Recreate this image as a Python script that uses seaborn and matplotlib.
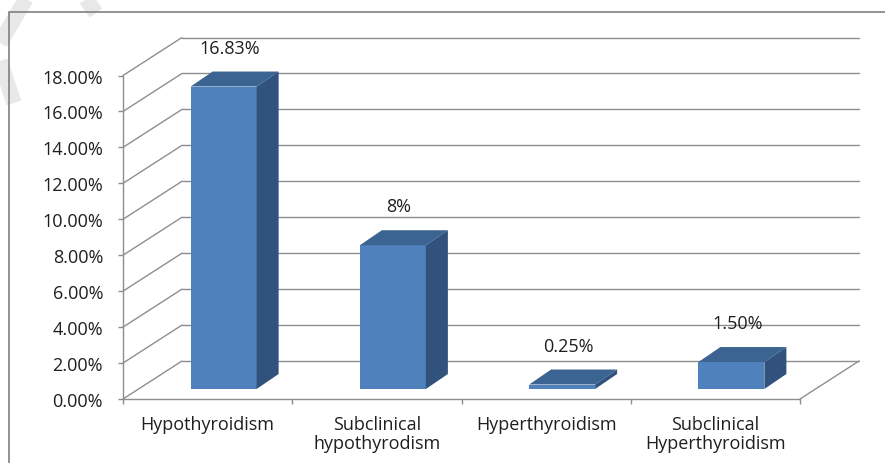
import matplotlib
matplotlib.use("Agg")
import matplotlib.pyplot as plt
import seaborn as sns
import pandas as pd
from matplotlib.patches import Polygon, Rectangle
from matplotlib.lines import Line2D

# Prevalence of thyroid dysfunction
categories = ["Hypothyroidism", "Subclinical\nhypothyrodism",
              "Hyperthyroidism", "Subclinical\nHyperthyroidism"]
prevalence = [16.83, 8.0, 0.25, 1.50]
value_labels = ["16.83%", "8%", "0.25%", "1.50%"]
y_ticks = [0, 2, 4, 6, 8, 10, 12, 14, 16, 18]
y_tick_labels = [f"{v:.2f}%" for v in y_ticks]

sns.set_theme(style="white")
plt.rcParams["font.family"] = ["Open Sans", "DejaVu Sans"]

FRONT_C = "#4F81BD"
TOP_C = "#3C6493"
SIDE_C = "#30527C"
GRID_C = "#8E8E8E"
TEXT_C = "#1f1f1f"
FS = 13

W, H = 885, 464
fig = plt.figure(figsize=(W / 100, H / 100), dpi=100)
fig.patch.set_facecolor("white")

# front plane of the 3-D box, in pixels
X0, X1, YB, YT = 123, 800, 400, 76.5
ax = fig.add_axes([X0 / W, 1 - YB / H, (X1 - X0) / W, (YB - YT) / H])
ax.set_facecolor("none")
sx = 4 / (X1 - X0)      # data units per pixel, horizontal
sy = 18 / (YB - YT)     # data units per pixel, vertical

WALL = (59, 38)    # depth of the floor / back wall
FRONT = (16, 10)   # bar front face set back from the floor edge
DEPTH = (22, 15)   # bar depth

# faint marks behind the chart
for pts in [[(26, 0), (0, 44)], [(86, 0), (96, 14)], [(0, 62), (14, 104)]]:
    fig.add_artist(Line2D([p[0] / W for p in pts], [1 - p[1] / H for p in pts],
                          transform=fig.transFigure, color="#E8E8E8", lw=11,
                          solid_capstyle="butt", zorder=0))

# outer frame
fig.add_artist(Rectangle((8.5 / W, -0.5), 2, 1 - 13 / H + 0.5,
                         transform=fig.transFigure, fill=False,
                         edgecolor="#808080", lw=1.2, zorder=1))

wx, wy = WALL[0] * sx, WALL[1] * sy
for v in y_ticks:
    ax.plot([-0.5 + wx, 3.5 + wx], [v + wy, v + wy], color=GRID_C, lw=1.0,
            clip_on=False, zorder=1)
    ax.plot([-0.5, -0.5 + wx], [v, v + wy], color=GRID_C, lw=1.0,
            clip_on=False, zorder=1)
ax.plot([3.5, 3.5 + wx], [0, wy], color=GRID_C, lw=1.0, clip_on=False, zorder=1)

df = pd.DataFrame({"condition": categories, "prevalence": prevalence})
sns.barplot(data=df, x="condition", y="prevalence", color=FRONT_C,
            saturation=1, width=0.39, ax=ax, zorder=3)

fx, fy = FRONT[0] * sx, FRONT[1] * sy
dx, dy = DEPTH[0] * sx, DEPTH[1] * sy
for patch, lbl in zip(ax.patches, value_labels):
    patch.set_x(patch.get_x() + fx)
    patch.set_y(fy)
    patch.set_edgecolor("none")
    patch.set_clip_on(False)
    x0, w = patch.get_x(), patch.get_width()
    b, top = patch.get_y(), patch.get_y() + patch.get_height()
    ax.add_patch(Polygon([(x0, top), (x0 + w, top), (x0 + w + dx, top + dy),
                          (x0 + dx, top + dy)], closed=True, facecolor=TOP_C,
                         edgecolor="none", clip_on=False, zorder=3))
    ax.add_patch(Polygon([(x0 + w, b), (x0 + w + dx, b + dy),
                          (x0 + w + dx, top + dy), (x0 + w, top)], closed=True,
                         facecolor=SIDE_C, edgecolor="none", clip_on=False,
                         zorder=3))
    ax.annotate(lbl, xy=(x0 + w / 2, top), xytext=(6 * 0.72, 39 * 0.72),
                textcoords="offset points", ha="center", va="center",
                fontsize=FS, color=TEXT_C, zorder=5)

ax.set_xlim(-0.5, 3.5)
ax.set_ylim(0, 18)
ax.set_xlabel("")
ax.set_ylabel("")

for side in ["top", "right"]:
    ax.spines[side].set_visible(False)
for side in ["left", "bottom"]:
    ax.spines[side].set_color(GRID_C)
    ax.spines[side].set_linewidth(1.0)
    ax.spines[side].set_zorder(2)

ax.set_yticks(y_ticks, y_tick_labels)
ax.set_xticks(range(len(categories)), categories)
ax.set_xticks([-0.5, 0.5, 1.5, 2.5, 3.5], minor=True)
ax.tick_params(axis="y", direction="out", length=3.6, width=1.0, color=GRID_C,
               pad=10.8, labelsize=FS, labelcolor=TEXT_C, left=True)
ax.tick_params(axis="x", which="major", length=0, pad=11.5, labelsize=FS,
               labelcolor=TEXT_C)
ax.tick_params(axis="x", which="minor", direction="out", length=3.6, width=1.0,
               color=GRID_C, bottom=True)
for t in ax.get_xticklabels():
    t.set_linespacing(1.1)
    t.set_ha("center")

fig.savefig("out.png", dpi=100)
